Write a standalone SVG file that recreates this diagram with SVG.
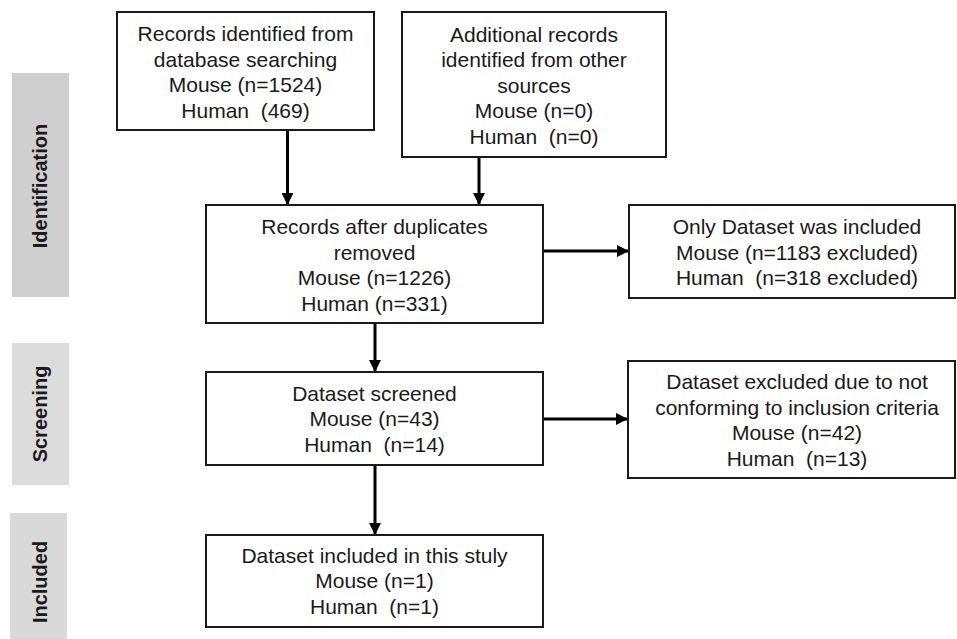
<svg xmlns="http://www.w3.org/2000/svg" width="957" height="639" viewBox="0 0 957 639">
<style>
.box{fill:#fff;stroke:#1a1a1a;stroke-width:2}
.t{font-family:"Liberation Sans",Arial,sans-serif;font-size:21px;fill:#1a1a1a;text-anchor:middle;white-space:pre}
.side{font-family:"Liberation Sans",Arial,sans-serif;font-size:20px;font-weight:bold;fill:#1a1a1a;text-anchor:middle}
.con{stroke:#000;stroke-width:3;fill:none}
</style>
<defs>
<marker id="ah" markerUnits="userSpaceOnUse" markerWidth="12" markerHeight="12" refX="12" refY="6" orient="auto">
<path d="M0,0 L12,6 L0,12 Z" fill="#000"/>
</marker>
</defs>
<g id="side-identification">
<rect x="12" y="73" width="57" height="224" fill="#cfcfcf"/>
<text class="side" transform="translate(47,186) rotate(-90)">Identification</text>
</g>
<g id="side-screening">
<rect x="12" y="343" width="57" height="142" fill="#dcdcdc"/>
<text class="side" transform="translate(47,414) rotate(-90)">Screening</text>
</g>
<g id="side-included">
<rect x="10" y="513" width="57" height="126" fill="#d9d9d9"/>
<text class="side" transform="translate(47,582) rotate(-90)">Included</text>
</g>
<g id="connectors">
<line class="con" x1="287.5" y1="130" x2="287.5" y2="205" marker-end="url(#ah)"/>
<line class="con" x1="479" y1="157" x2="479" y2="205" marker-end="url(#ah)"/>
<line class="con" x1="543" y1="251" x2="629" y2="251" marker-end="url(#ah)"/>
<line class="con" x1="375" y1="323" x2="375" y2="372" marker-end="url(#ah)"/>
<line class="con" x1="543" y1="419" x2="628" y2="419" marker-end="url(#ah)"/>
<line class="con" x1="375" y1="465" x2="375" y2="535" marker-end="url(#ah)"/>
</g>
<g id="n1">
<rect class="box" x="117" y="12" width="257" height="118"/>
<text class="t" x="245.5" y="41">Records identified from</text>
<text class="t" x="245.5" y="66.5">database searching</text>
<text class="t" x="245.5" y="92">Mouse (n=1524)</text>
<text class="t" x="245.5" y="117.5">Human  (469)</text>
</g>
<g id="n2">
<rect class="box" x="402" y="12" width="264" height="145"/>
<text class="t" x="534" y="41.5">Additional records</text>
<text class="t" x="534" y="67">identified from other</text>
<text class="t" x="534" y="92.5">sources</text>
<text class="t" x="534" y="118">Mouse (n=0)</text>
<text class="t" x="534" y="143.5">Human  (n=0)</text>
</g>
<g id="n3">
<rect class="box" x="206" y="205" width="337" height="118"/>
<text class="t" x="374.5" y="234">Records after duplicates</text>
<text class="t" x="374.5" y="259.5">removed</text>
<text class="t" x="374.5" y="285">Mouse (n=1226)</text>
<text class="t" x="374.5" y="310.5">Human (n=331)</text>
</g>
<g id="n4">
<rect class="box" x="629" y="205" width="326" height="93"/>
<text class="t" x="797" y="234">Only Dataset was included</text>
<text class="t" x="797" y="259.5">Mouse (n=1183 excluded)</text>
<text class="t" x="797" y="285">Human  (n=318 excluded)</text>
</g>
<g id="n5">
<rect class="box" x="206" y="372" width="337" height="93"/>
<text class="t" x="374.5" y="400.5">Dataset screened</text>
<text class="t" x="374.5" y="426">Mouse (n=43)</text>
<text class="t" x="374.5" y="451.5">Human  (n=14)</text>
</g>
<g id="n6">
<rect class="box" x="628" y="361" width="327" height="117"/>
<text class="t" x="797" y="389">Dataset excluded due to not</text>
<text class="t" x="797" y="414.5">conforming to inclusion criteria</text>
<text class="t" x="797" y="440">Mouse (n=42)</text>
<text class="t" x="797" y="465.5">Human  (n=13)</text>
</g>
<g id="n7">
<rect class="box" x="206" y="535" width="337" height="92"/>
<text class="t" x="374.5" y="562.5">Dataset included in this stuly</text>
<text class="t" x="374.5" y="588">Mouse (n=1)</text>
<text class="t" x="374.5" y="613.5">Human  (n=1)</text>
</g>
</svg>
